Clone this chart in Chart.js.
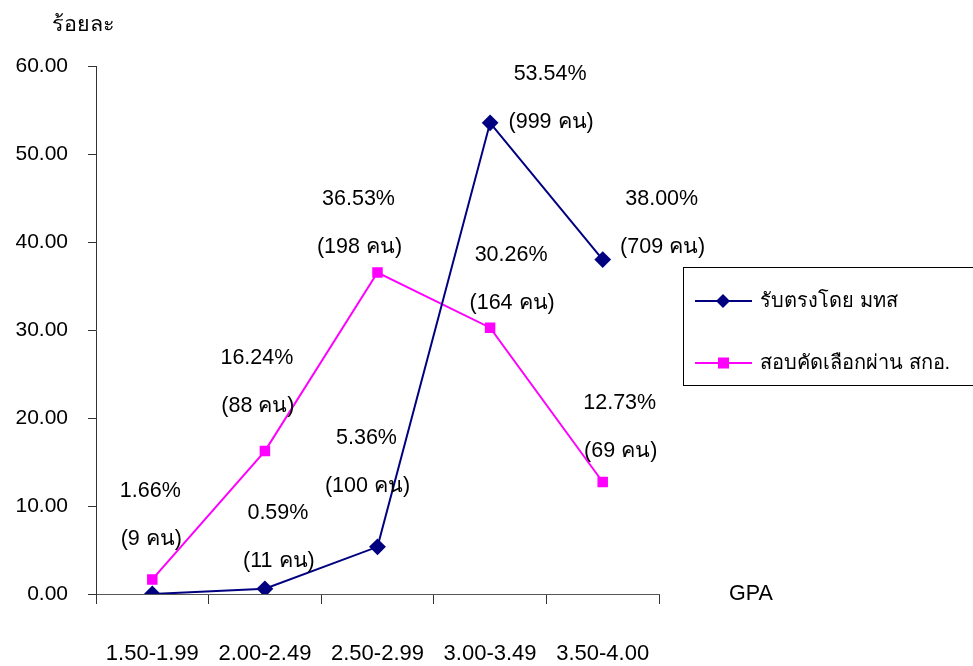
<!DOCTYPE html>
<html><head><meta charset="utf-8">
<script src="https://cdn.jsdelivr.net/npm/chart.js@4/dist/chart.umd.min.js"></script>
<style>html,body{margin:0;padding:0;background:#fff;}#wrap{width:973px;height:666px;position:relative;}</style>
</head><body><div id="wrap"><canvas id="c" width="973" height="666"></canvas></div>
<script>
const categories = ['1.50-1.99','2.00-2.49','2.50-2.99','3.00-3.49','3.50-4.00'];
const directValues = [0, 0.59, 5.36, 53.54, 38.00];
const directCounts = [null, 11, 100, 999, 709];
const quotaValues = [1.66, 16.24, 36.53, 30.26, 12.73];
const quotaCounts = [9, 88, 198, 164, 69];
const seriesNames = ['รับตรงโดย มทส', 'สอบคัดเลือกผ่าน สกอ.'];
const yTicks = [0, 10, 20, 30, 40, 50, 60];

// label placement (offset of first line centre from the point, in px)
const labelOffsets = [
  [null, [13,-76], [-11,-109], [60,-49], [59,-61]],
  [[-2,-88], [-8,-93], [-19,-73], [21,-73], [17,-79]]
];
const countsBySeries = [directCounts, quotaCounts];
const FONT = "'Liberation Sans', Arial, sans-serif";

const extras = {
  id: 'extras',
  afterDatasetsDraw(chart) {
    const ctx = chart.ctx;
    ctx.save();
    ctx.fillStyle = '#000';
    ctx.textAlign = 'center';
    ctx.textBaseline = 'middle';
    ctx.font = '21.5px ' + FONT;
    chart.data.datasets.forEach((ds, di) => {
      const meta = chart.getDatasetMeta(di);
      meta.data.forEach((pt, i) => {
        const off = labelOffsets[di][i];
        const cnt = countsBySeries[di][i];
        if (!off || cnt == null) return;
        const x = pt.x + off[0], y = pt.y + off[1];
        ctx.fillText(ds.data[i].toFixed(2) + '%', x, y);
        ctx.fillText('(' + cnt + ' คน)', x + 1, y + 48);
      });
    });
    // axis titles
    ctx.font = '21.5px ' + FONT;
    ctx.textAlign = 'left';
    ctx.fillText('ร้อยละ', 52, 25);
    const xs = chart.scales.x;
    ctx.fillText('GPA', xs.right + 70, xs.top);
    // legend
    const lx = 683, ly = 267;
    ctx.strokeStyle = '#000';
    ctx.lineWidth = 1;
    ctx.strokeRect(lx + 0.5, ly + 0.5, 400, 118);
    ctx.font = '20px ' + FONT;
    chart.data.datasets.forEach((ds, di) => {
      const cy = ly + 34 + di * 62;
      ctx.strokeStyle = ds.borderColor;
      ctx.lineWidth = 2;
      ctx.beginPath(); ctx.moveTo(695, cy); ctx.lineTo(752, cy); ctx.stroke();
      ctx.fillStyle = ds.pointBackgroundColor;
      if (ds.pointStyle === 'rectRot') {
        ctx.beginPath(); ctx.moveTo(723, cy - 7); ctx.lineTo(730, cy); ctx.lineTo(723, cy + 7); ctx.lineTo(716, cy); ctx.closePath(); ctx.fill();
      } else {
        ctx.fillRect(718, cy - 5.5, 11, 11);
      }
      ctx.fillStyle = '#000';
      ctx.fillText(ds.label, 760, cy);
    });
    ctx.restore();
  }
};

new Chart(document.getElementById('c'), {
  type: 'line',
  data: {
    labels: categories,
    datasets: [
      { label: seriesNames[0], data: directValues, borderColor: '#000080', backgroundColor: '#000080',
        pointBackgroundColor: '#000080', pointBorderColor: '#000080', pointStyle: 'rectRot', pointRadius: 7,
        borderWidth: 2, tension: 0 },
      { label: seriesNames[1], data: quotaValues, borderColor: '#FF00FF', backgroundColor: '#FF00FF',
        pointBackgroundColor: '#FF00FF', pointBorderColor: '#FF00FF', pointStyle: 'rect', pointRadius: 6,
        borderWidth: 2, tension: 0 }
    ]
  },
  options: {
    responsive: false,
    animation: false,
    layout: { padding: { top: 66, right: 314, left: 0, bottom: 0 } },
    plugins: { legend: { display: false }, tooltip: { enabled: false } },
    scales: {
      x: {
        offset: true,
        grid: { offset: true, drawOnChartArea: false, drawTicks: true, tickLength: 10, color: '#333', lineWidth: 1 },
        border: { color: '#555', width: 1 },
        ticks: { color: '#000', font: { size: 22, family: FONT }, padding: 37, maxRotation: 0, autoSkip: false },
        afterFit(s) { s.height = 72; }
      },
      y: {
        min: 0, max: 60,
        afterBuildTicks(s) { s.ticks = yTicks.map(v => ({ value: v })); },
        grid: { drawOnChartArea: false, drawTicks: true, tickLength: 8, color: '#333' },
        border: { color: '#333', width: 1 },
        ticks: { color: '#000', font: { size: 21, family: FONT }, padding: 20, callback: v => Number(v).toFixed(2) },
        afterFit(s) { s.width = 96; }
      }
    }
  },
  plugins: [extras]
});
</script></body></html>
